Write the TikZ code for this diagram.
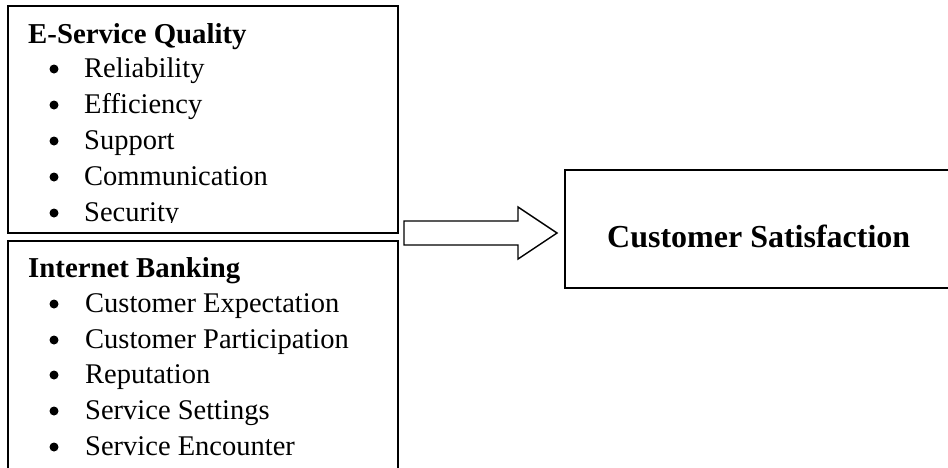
\documentclass[tikz,border=0pt]{standalone}
\usepackage{fontspec}
\setmainfont{Liberation Serif}
\usetikzlibrary{calc}
\tikzset{
  framebox/.style={draw=black, line width=2pt, rectangle, inner sep=0pt, anchor=north west},
  headtext/.style={anchor=base west, inner sep=0pt, font=\fontsize{28.8}{34}\selectfont\bfseries},
  itemtext/.style={anchor=base west, inner sep=0pt, font=\fontsize{28.5}{34}\selectfont},
  bulletdot/.style={circle, fill=black, inner sep=0pt, minimum size=9pt},
  bigtext/.style={anchor=base west, inner sep=0pt, font=\fontsize{32}{38}\selectfont\bfseries},
  blockarrow/.style={draw=black, line width=1.4pt, fill=white, line join=miter}
}
\begin{document}
\begin{tikzpicture}[x=1pt, y=-1pt]
\useasboundingbox (0,0) rectangle (948,467);
\clip (0,0) rectangle (948,467);
% boxes
\node[framebox, minimum width=390pt, minimum height=227pt] (esq) at (7,5) {};
\node[framebox, minimum width=390pt, minimum height=260pt] (ib) at (7,240) {};
\node[framebox, minimum width=500pt, minimum height=118pt] (cs) at (564,169) {};
% E-Service Quality text (clipped above box bottom)
\begin{scope}
\clip (7,5) rectangle (397,222.5);
\node[headtext] (h1) at (28,43) {E-Service Quality};
\foreach \t/\y [count=\i] in {Reliability/77, Efficiency/113, Support/149, Communication/185, Security/221}{
  \node[bulletdot] (b1\i) at (54,\y-8) {};
  \node[itemtext] (t1\i) at (84,\y) {\t};
}
\end{scope}
% Internet Banking text
\node[headtext] (h2) at (28,277) {Internet Banking};
\foreach \t/\y [count=\i] in {Customer Expectation/312, Customer Participation/348, Reputation/383, Service Settings/419, Service Encounter/455}{
  \node[bulletdot] (b2\i) at (54,\y-8) {};
  \node[itemtext] (t2\i) at (85,\y) {\t};
}
% Customer Satisfaction
\node[bigtext] (cst) at (607,247) {Customer Satisfaction};
% block arrow
\coordinate (atip) at ($(cs.north west)+(-7,64)$);
\draw[blockarrow] (404,221) -- (518,221) -- (518,207) -- (atip) -- (518,259) -- (518,245) -- (404,245) -- cycle;
\end{tikzpicture}
\end{document}
